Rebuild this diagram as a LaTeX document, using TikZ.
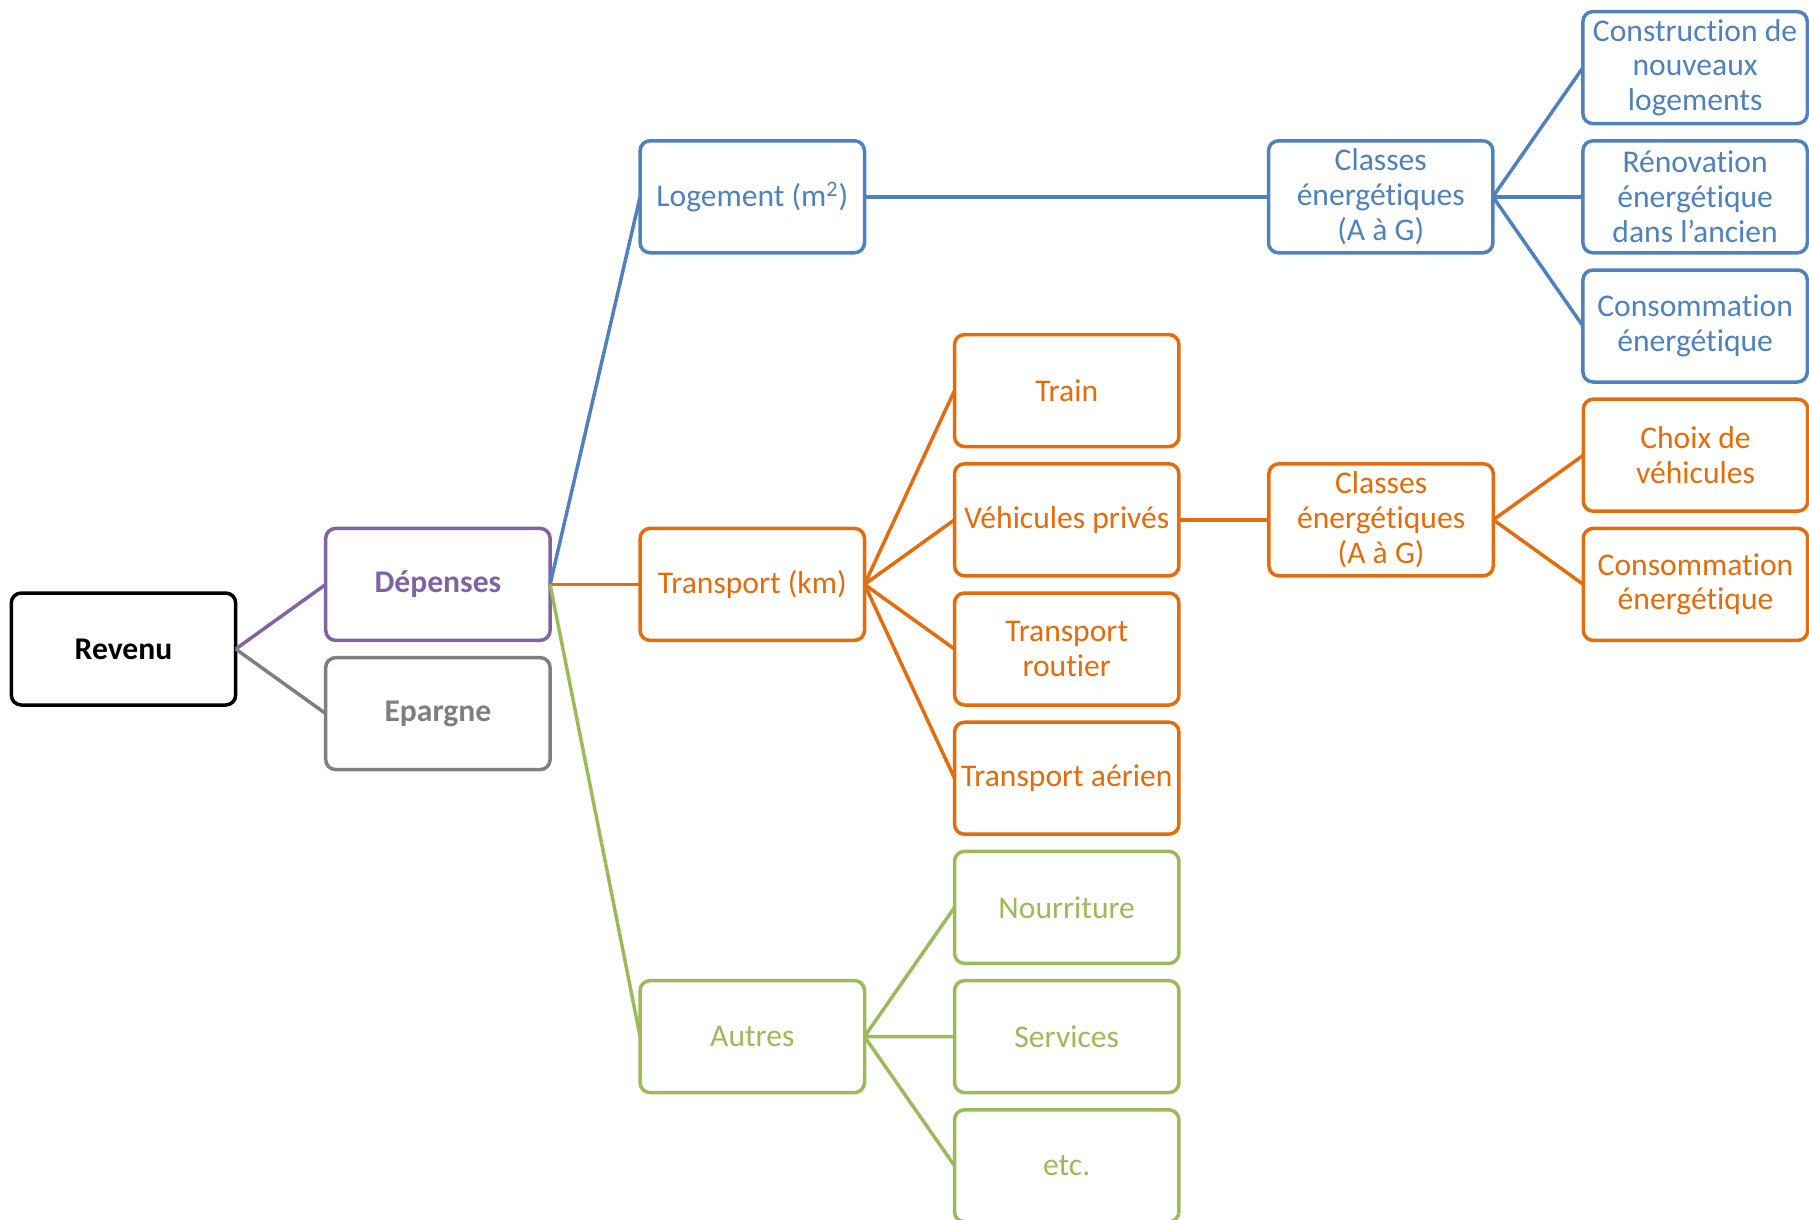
\documentclass[tikz,border=0pt]{standalone}
\usepackage{fontspec}
\setmainfont[Ligatures=NoCommon]{Carlito}
\usepackage{xcolor}
\usepackage{tikz}
\usetikzlibrary{positioning}
\definecolor{RBlue}{HTML}{4F81BD}
\definecolor{ROrange}{HTML}{E46C0A}
\definecolor{RGreen}{HTML}{9BBB59}
\definecolor{RPurple}{HTML}{8064A2}
\definecolor{RGray}{HTML}{7F7F7F}

\begin{document}
\begin{tikzpicture}[
  every node/.style={font=\fontsize{15.8}{17.4}\selectfont},
  box/.style={draw,line width=1.75pt,rounded corners=5pt,fill=white,
    minimum width=112.2pt,minimum height=56pt,inner sep=1pt,outer sep=0pt,align=center},
  root/.style={box,draw=black,text=black},
  spend/.style={box,draw=RPurple,text=RPurple},
  save/.style={box,draw=RGray,text=RGray},
  house/.style={box,draw=RBlue,text=RBlue},
  move/.style={box,draw=ROrange,text=ROrange},
  other/.style={box,draw=RGreen,text=RGreen},
  lnk/.style={line width=1.75pt}
]
  \useasboundingbox (0,0) rectangle (904.5pt,-610pt);

  \node[root] (revenu) at (61.75pt,-324.5pt) {\textbf{Revenu}};
  \node[spend,right=45pt of revenu,yshift=32.3pt] (depenses) {\textbf{Dépenses}};
  \node[save,below=8.6pt of depenses] (epargne) {\textbf{Epargne}};

  \node[move,right=45pt of depenses] (transport) {Transport (km)};
  \node[house,above=137.8pt of transport] (logement) {Logement (m\textsuperscript{2})};
  \node[other,below=170.1pt of transport] (autres) {Autres};

  % logement
  \node[house,right=202pt of logement] (classesL) {Classes\\énergétiques\\(A à G)};
  \node[house,right=45pt of classesL] (renov) {Rénovation\\énergétique\\dans l’ancien};
  \node[house,above=8.6pt of renov] (constr) {Construction de\\nouveaux\\logements};
  \node[house,below=8.6pt of renov] (consoL) {Consommation\\énergétique};

  % transport
  \node[move,right=45pt of transport,yshift=96.9pt] (train) {Train};
  \node[move,below=8.6pt of train] (vehic) {Véhicules privés};
  \node[move,below=8.6pt of vehic] (routier) {Transport\\routier};
  \node[move,below=8.6pt of routier] (aerien) {Transport aérien};
  \node[move,right=45pt of vehic] (classesT) {Classes\\énergétiques\\(A à G)};
  \node[move,right=45pt of classesT,yshift=32.3pt] (choix) {Choix de\\véhicules};
  \node[move,below=8.6pt of choix] (consoT) {Consommation\\énergétique};

  % autres
  \node[other,below=8.6pt of aerien] (nourr) {Nourriture};
  \node[other,below=8.6pt of nourr] (services) {Services};
  \node[other,below=8.6pt of services] (etc) {etc.};

  \draw[lnk,RPurple] (revenu.east) -- (depenses.west);
  \draw[lnk,RGray] (revenu.east) -- (epargne.west);
  \draw[lnk,RBlue] (depenses.east) -- (logement.west);
  \draw[lnk,ROrange] (depenses.east) -- (transport.west);
  \draw[lnk,RGreen] (depenses.east) -- (autres.west);

  \draw[lnk,RBlue] (logement.east) -- (classesL.west);
  \draw[lnk,RBlue] (classesL.east) -- (constr.west);
  \draw[lnk,RBlue] (classesL.east) -- (renov.west);
  \draw[lnk,RBlue] (classesL.east) -- (consoL.west);

  \draw[lnk,ROrange] (transport.east) -- (train.west);
  \draw[lnk,ROrange] (transport.east) -- (vehic.west);
  \draw[lnk,ROrange] (transport.east) -- (routier.west);
  \draw[lnk,ROrange] (transport.east) -- (aerien.west);
  \draw[lnk,ROrange] (vehic.east) -- (classesT.west);
  \draw[lnk,ROrange] (classesT.east) -- (choix.west);
  \draw[lnk,ROrange] (classesT.east) -- (consoT.west);

  \draw[lnk,RGreen] (autres.east) -- (nourr.west);
  \draw[lnk,RGreen] (autres.east) -- (services.west);
  \draw[lnk,RGreen] (autres.east) -- (etc.west);
\end{tikzpicture}
\end{document}
